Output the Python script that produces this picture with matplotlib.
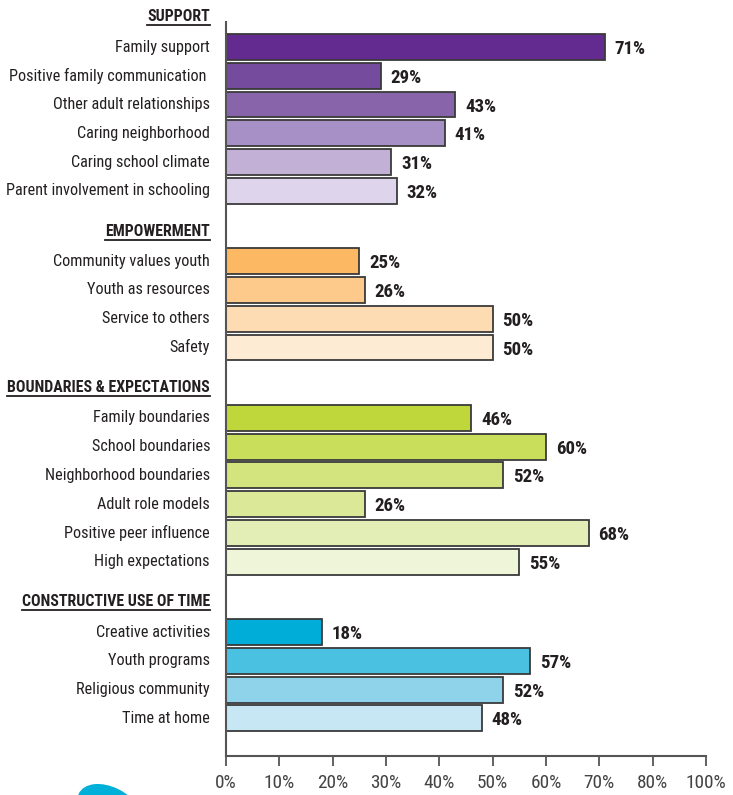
import os
import matplotlib
matplotlib.use("Agg")
import matplotlib.pyplot as plt
from matplotlib.lines import Line2D
from matplotlib.patches import Ellipse
from matplotlib.font_manager import FontProperties, findSystemFonts

# Asset categories and percentages
support_labels = ["Family support", "Positive family communication ", "Other adult relationships",
                  "Caring neighborhood", "Caring school climate", "Parent involvement in schooling"]
support_values = [71, 29, 43, 41, 31, 32]

empower_labels = ["Community values youth", "Youth as resources", "Service to others", "Safety"]
empower_values = [25, 26, 50, 50]

bound_labels = ["Family boundaries", "School boundaries", "Neighborhood boundaries",
                "Adult role models", "Positive peer influence", "High expectations"]
bound_values = [46, 60, 52, 26, 68, 55]

time_labels = ["Creative activities", "Youth programs", "Religious community", "Time at home"]
time_values = [18, 57, 52, 48]

group_names = ["SUPPORT", "EMPOWERMENT", "BOUNDARIES & EXPECTATIONS", "CONSTRUCTIVE USE OF TIME"]

tick_values = [0, 10, 20, 30, 40, 50, 60, 70, 80, 90]
tick_labels = ["0%", "10%", "20%", "30%", "40%", "50%", "60%", "70%", "80%", "100%"]

# Colour ramps per group
support_colors = ["#632a8f", "#754b9d", "#8864ab", "#a690c5", "#c2b0d7", "#ded4eb"]
empower_colors = ["#fdb863", "#fdca8c", "#fedcb3", "#feebd4"]
bound_colors = ["#bfd73b", "#c9de5b", "#d3e47e", "#dbe898", "#e3edb6", "#eef5d9"]
time_colors = ["#00acd8", "#4bc1e1", "#8fd3eb", "#c7e7f4"]

groups = [
    (support_labels, support_values, support_colors),
    (empower_labels, empower_values, empower_colors),
    (bound_labels, bound_values, bound_colors),
    (time_labels, time_values, time_colors),
]


# Look for a narrow face on the system
def find_font(candidates):
    paths = {os.path.basename(p): p for p in findSystemFonts()}
    for c in candidates:
        if c in paths:
            return paths[c]
    return None


reg_path = find_font(["LiberationSansNarrow-Regular.ttf", "RobotoCondensed-Regular.ttf",
                      "DejaVuSansCondensed.ttf"])
bold_path = find_font(["LiberationSansNarrow-Bold.ttf", "RobotoCondensed-Bold.ttf",
                       "DejaVuSansCondensed-Bold.ttf"])
reg_fp = FontProperties(fname=reg_path) if reg_path else FontProperties(family="DejaVu Sans")
bold_fp = FontProperties(fname=bold_path) if bold_path else FontProperties(family="DejaVu Sans", weight="bold")

text_color = "#231f20"
edge_color = "#3a3a3a"
axis_color = "#555555"

W, H = 733, 795
fig = plt.figure(figsize=(W / 100, H / 100), dpi=100)
renderer = fig.canvas.get_renderer()


# Font size that makes a string span the given pixel width
def fit_size(s, fp, width_px):
    t = fig.text(0, 0, s, fontproperties=fp, fontsize=10)
    w = t.get_window_extent(renderer=renderer).width
    t.remove()
    return 10 * width_px / w


label_size = fit_size("Parent involvement in schooling", reg_fp, 203)
header_size = fit_size("BOUNDARIES & EXPECTATIONS", bold_fp, 203)
value_size = fit_size("29%", bold_fp, 31)
tick_size = fit_size("10%", reg_fp, 31)

ax = fig.add_axes([226 / W, 1 - 756 / H, 480 / W, (756 - 22) / H])

group_gap = 2.45
header_offset = 1.05
bar_height = 0.9

label_x = -16 / 480
ytrans = ax.get_yaxis_transform()
headers = []

y = 0.0
for name, (labels, values, colors) in zip(group_names, groups):
    t = ax.text(label_x, y - header_offset, name, transform=ytrans, ha="right", va="center",
                fontproperties=bold_fp, fontsize=header_size, color=text_color)
    headers.append(t)
    for lab, val, col in zip(labels, values, colors):
        ax.barh(y, val, height=bar_height, color=col, edgecolor=edge_color, linewidth=1.3, zorder=2)
        ax.text(label_x, y, lab, transform=ytrans, ha="right", va="center",
                fontproperties=reg_fp, fontsize=label_size, color=text_color)
        ax.annotate(f"{val}%", (val, y), xytext=(7, -1.5), textcoords="offset points",
                    ha="left", va="center", fontproperties=bold_fp, fontsize=value_size,
                    color=text_color)
        y += 1
    y += group_gap - 1

ax.set_xlim(0, 90)
ax.set_ylim(24.66, -0.87)
ax.set_xticks(tick_values)
ax.set_xticklabels(tick_labels, fontproperties=reg_fp, fontsize=tick_size, color="#444444")
ax.set_yticks([])
ax.tick_params(axis="x", length=7, width=1.3, color=axis_color, pad=6)
for side in ["top", "right"]:
    ax.spines[side].set_visible(False)
for side in ["left", "bottom"]:
    ax.spines[side].set_color(axis_color)
    ax.spines[side].set_linewidth(1.5)

# Underline the group headers
fig.canvas.draw()
for t in headers:
    bb = t.get_window_extent(renderer=renderer)
    yline = (bb.y0 - 1) / H
    fig.add_artist(Line2D([bb.x0 / W, bb.x1 / W], [yline, yline], color=text_color, linewidth=1.3,
                          transform=fig.transFigure))

# Decorative blob in the bottom corner
fig.add_artist(Ellipse((110 / W, 1 - 810 / H), 68 / W, 44 / H, angle=-25,
                       transform=fig.transFigure, color="#00b0d9", zorder=0))

fig.savefig("out.png", dpi=100)
